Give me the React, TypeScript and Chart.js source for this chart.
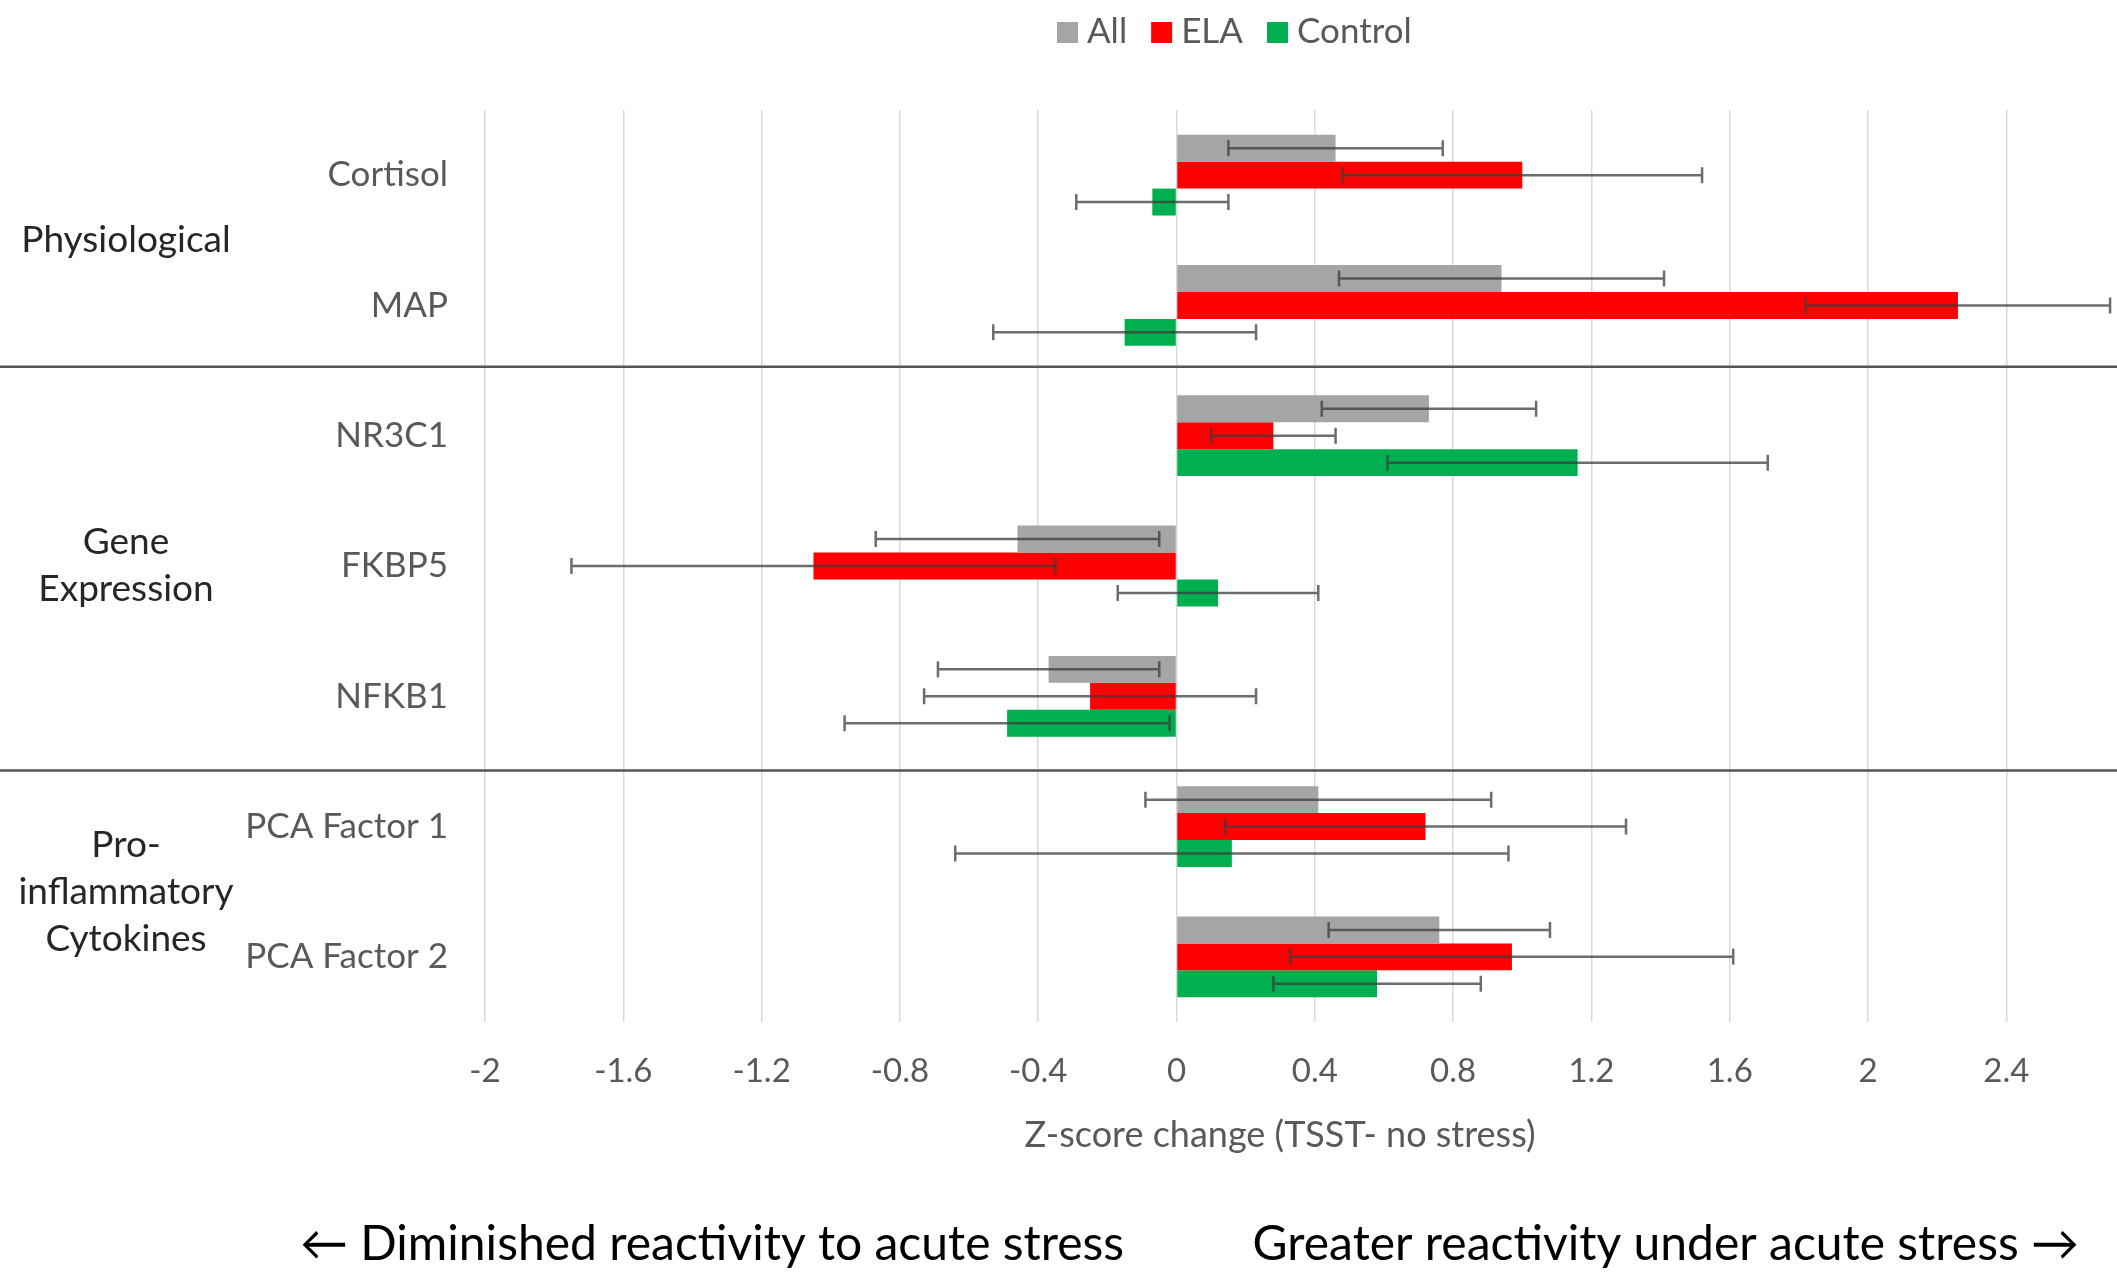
import React, { useEffect, useRef } from "react";
import { Chart, registerables } from "chart.js";

Chart.register(...registerables);

const categories = ["Cortisol", "MAP", "NR3C1", "FKBP5", "NFKB1", "PCA Factor 1", "PCA Factor 2"];
const seriesNames = ["All", "ELA", "Control"];
const allValues = [0.46, 0.94, 0.73, -0.46, -0.37, 0.41, 0.76];
const allErrors = [0.31, 0.47, 0.31, 0.41, 0.32, 0.5, 0.32];
const elaValues = [1.0, 2.26, 0.28, -1.05, -0.25, 0.72, 0.97];
const elaErrors = [0.52, 0.44, 0.18, 0.7, 0.48, 0.58, 0.64];
const controlValues = [-0.07, -0.15, 1.16, 0.12, -0.49, 0.16, 0.58];
const controlErrors = [0.22, 0.38, 0.55, 0.29, 0.47, 0.8, 0.3];
const xTickValues = [-2, -1.6, -1.2, -0.8, -0.4, 0, 0.4, 0.8, 1.2, 1.6, 2, 2.4];
const groupLabels = [["Physiological"], ["Gene", "Expression"], ["Pro-", "inflammatory", "Cytokines"]];
const groupFirst = [0, 2, 5];
const groupLast = [1, 4, 6];
const separatorPositions = [1.47, 4.57];
const axisTitle = "Z-score change (TSST- no stress)";
const leftNote = "\u2190 Diminished reactivity to acute stress";
const rightNote = "Greater reactivity under acute stress \u2192";

const seriesColors = ["#A5A5A5", "#FF0000", "#00B050"];
const seriesValues = [allValues, elaValues, controlValues];
const seriesErrors = [allErrors, elaErrors, controlErrors];

const FONT = "Lato, 'Open Sans', sans-serif";
const GRAY_TEXT = "#595959";

const overlayPlugin = {
  id: "overlay",
  afterDatasetsDraw(chart: any) {
    const ctx = chart.ctx;
    const xs = chart.scales.x;
    ctx.save();
    ctx.strokeStyle = "rgba(60,60,60,0.75)";
    ctx.lineWidth = 2.5;
    chart.data.datasets.forEach((ds: any, di: number) => {
      const meta = chart.getDatasetMeta(di);
      meta.data.forEach((bar: any, i: number) => {
        const v = ds.data[i];
        const e = ds.errors[i];
        const x1 = xs.getPixelForValue(v - e);
        const x2 = xs.getPixelForValue(v + e);
        const y = bar.y;
        const h = 8;
        ctx.beginPath();
        ctx.moveTo(x1, y);
        ctx.lineTo(x2, y);
        ctx.moveTo(x1, y - h);
        ctx.lineTo(x1, y + h);
        ctx.moveTo(x2, y - h);
        ctx.lineTo(x2, y + h);
        ctx.stroke();
      });
    });
    ctx.restore();
  },
  afterDraw(chart: any) {
    const ctx = chart.ctx;
    const ys = chart.scales.y;
    const W = chart.width;
    ctx.save();

    // category labels
    ctx.font = `35px ${FONT}`;
    ctx.fillStyle = GRAY_TEXT;
    ctx.textAlign = "right";
    ctx.textBaseline = "middle";
    categories.forEach((c, i) => {
      ctx.fillText(c, 448, ys.getPixelForValue(i));
    });

    // group labels
    ctx.font = `37px ${FONT}`;
    ctx.fillStyle = "#262626";
    ctx.textAlign = "center";
    const lh = 47;
    groupLabels.forEach((lines, g) => {
      const cy = (ys.getPixelForValue(groupFirst[g]) + ys.getPixelForValue(groupLast[g])) / 2;
      lines.forEach((t, k) => {
        ctx.fillText(t, 126, cy + (k - (lines.length - 1) / 2) * lh);
      });
    });

    // separators
    ctx.strokeStyle = "#555555";
    ctx.lineWidth = 2.5;
    separatorPositions.forEach((p) => {
      const i = Math.floor(p);
      const f = p - i;
      const y0 = ys.getPixelForValue(i);
      const y1 = ys.getPixelForValue(i + 1);
      const y = y0 + f * (y1 - y0);
      ctx.beginPath();
      ctx.moveTo(0, y);
      ctx.lineTo(W, y);
      ctx.stroke();
    });

    // legend
    ctx.font = `35px ${FONT}`;
    ctx.textAlign = "left";
    ctx.textBaseline = "middle";
    let lx = 1057;
    const ly = 32;
    seriesNames.forEach((n, i) => {
      ctx.fillStyle = seriesColors[i];
      ctx.fillRect(lx, ly - 10, 21, 21);
      ctx.fillStyle = GRAY_TEXT;
      ctx.fillText(n, lx + 30, ly);
      lx += 30 + ctx.measureText(n).width + 24;
    });

    // axis title
    ctx.font = `36px ${FONT}`;
    ctx.fillStyle = GRAY_TEXT;
    ctx.textAlign = "center";
    ctx.fillText(axisTitle, 1280, 1135);

    // notes
    ctx.font = `48px ${FONT}`;
    ctx.fillStyle = "#000000";
    ctx.textAlign = "left";
    ctx.fillText(leftNote, 300, 1245);
    ctx.textAlign = "right";
    ctx.fillText(rightNote, 2079, 1245);

    ctx.restore();
  },
};

export default function App() {
  const ref = useRef<HTMLCanvasElement | null>(null);
  useEffect(() => {
    document.body.style.margin = "0";
    const canvas = ref.current!;
    const chart = new Chart(canvas, {
      type: "bar",
      data: {
        labels: categories,
        datasets: seriesNames.map((n, i) => ({
          label: n,
          data: seriesValues[i],
          errors: seriesErrors[i],
          backgroundColor: seriesColors[i],
          borderWidth: 0,
          categoryPercentage: 0.62,
          barPercentage: 1.0,
        })) as any,
      },
      options: {
        indexAxis: "y",
        responsive: false,
        animation: false,
        devicePixelRatio: 1,
        layout: { padding: { left: 485, right: 0, top: 110, bottom: 0 } },
        plugins: { legend: { display: false }, tooltip: { enabled: false } },
        scales: {
          x: {
            type: "linear",
            min: -2,
            max: 2.72,
            afterBuildTicks: (scale: any) => {
              scale.ticks = xTickValues.map((v) => ({ value: v }));
            },
            afterFit: (scale: any) => {
              scale.height = 251;
            },
            ticks: {
              callback: (v: any) => String(v),
              color: GRAY_TEXT,
              font: { family: FONT, size: 33 },
              padding: 30,
              maxRotation: 0,
              autoSkip: false,
            },
            grid: { color: "#D9D9D9", lineWidth: 1.5, drawTicks: false },
            border: { display: false },
          },
          y: {
            display: false,
          },
        },
      },
      plugins: [overlayPlugin],
    });
    return () => chart.destroy();
  }, []);
  return <canvas ref={ref} width={2117} height={1273} style={{ display: "block", width: 2117, height: 1273 }} />;
}
